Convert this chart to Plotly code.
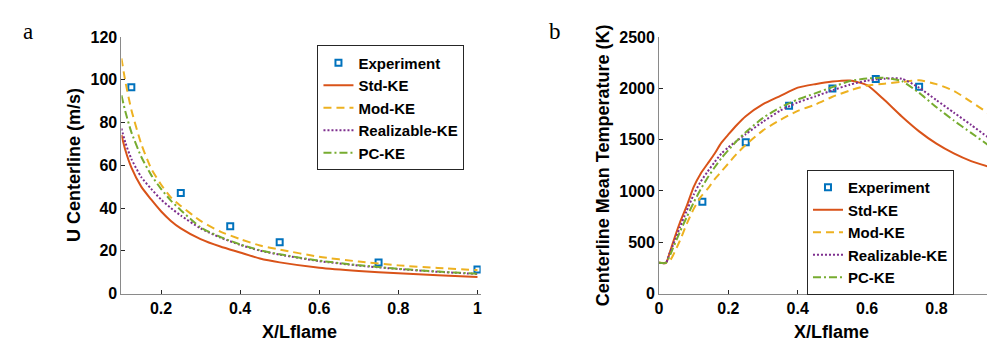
import plotly.graph_objects as go

# ---------------- Panel a data ----------------
xa = [0.1, 0.11, 0.125, 0.15, 0.175, 0.2, 0.225, 0.25, 0.3, 0.35, 0.4, 0.45, 0.5, 0.6, 0.7, 0.8, 0.9, 1.0]
std_a = [74.2, 67, 59, 50, 44, 38.5, 34, 30.5, 25.5, 22, 19.2, 16.4, 14.6, 12.1, 10.6, 9.5, 8.6, 7.8]
mod_a = [110, 99, 86, 70, 58.5, 51, 45, 41, 34, 29, 25.5, 22.5, 20.6, 17.2, 15, 13.2, 12, 11]
real_a = [77.2, 70.5, 63, 54.5, 49, 44, 40, 36.5, 30.5, 26.2, 22.8, 20.1, 18.2, 15.2, 13.1, 11.5, 10.2, 9.2]
pc_a = [92.7, 85, 75.5, 64, 55.5, 49, 43.5, 39, 31, 26.5, 23, 20.3, 18.4, 15.4, 13.3, 11.6, 10.3, 9.3]
exp_xa = [0.125, 0.25, 0.375, 0.5, 0.75, 1.0]
exp_ya = [96.5, 47, 31.5, 24, 14.5, 11.3]

# ---------------- Panel b data ----------------
xb = [0, 0.02, 0.03, 0.04, 0.06, 0.08, 0.1, 0.12, 0.14, 0.16, 0.18, 0.2, 0.225, 0.25, 0.3,
      0.35, 0.4, 0.45, 0.5, 0.55, 0.6, 0.65, 0.7, 0.75, 0.8, 0.85, 0.9, 0.95, 1.0]
std_b = [300, 300, 390, 495, 690, 855, 1040, 1168, 1265, 1362, 1470, 1550, 1645, 1728, 1845,
         1926, 2006, 2040, 2065, 2075, 2030, 1885, 1725, 1580, 1460, 1365, 1290, 1236, 1175]
mod_b = [300, 300, 315, 370, 515, 680, 825, 940, 1020, 1112, 1190, 1268, 1365, 1448, 1590,
         1692, 1780, 1840, 1917, 1978, 2027, 2045, 2062, 2078, 2040, 1975, 1868, 1755, 1630]
real_b = [300, 300, 390, 470, 645, 808, 965, 1090, 1188, 1280, 1365, 1425, 1490, 1553, 1675,
          1783, 1862, 1920, 1980, 2035, 2074, 2093, 2093, 2005, 1884, 1763, 1643, 1520, 1420]
pc_b = [300, 300, 360, 440, 600, 746, 888, 1015, 1128, 1228, 1320, 1398, 1490, 1572, 1712,
        1813, 1890, 1950, 2011, 2070, 2095, 2101, 2070, 1955, 1815, 1686, 1565, 1445, 1320]
exp_xb = [0.125, 0.25, 0.375, 0.5, 0.625, 0.75]
exp_yb = [895, 1475, 1830, 1997, 2090, 2015]

series_names = ["Std-KE", "Mod-KE", "Realizable-KE", "PC-KE"]
colors = ["#D95319", "#EDB120", "#7E2F8E", "#77AC30"]
dashes = ["solid", "8px,5px", "2px,2px", "8px,3px,2px,3px"]

fig = go.Figure()

def add_panel(x, ys, ex, ey, xref, yref, legend):
    fig.add_trace(go.Scatter(
        x=ex, y=ey, mode="markers", name="Experiment",
        marker=dict(symbol="square-open", size=6, color="#0072BD",
                    line=dict(width=2, color="#0072BD")),
        xaxis=xref, yaxis=yref, legend=legend))
    for name, y, c, d in zip(series_names, ys, colors, dashes):
        fig.add_trace(go.Scatter(
            x=x, y=y, mode="lines", name=name,
            line=dict(color=c, width=2, dash=d, shape="spline", smoothing=0.6),
            xaxis=xref, yaxis=yref, legend=legend))

add_panel(xa, [std_a, mod_a, real_a, pc_a], exp_xa, exp_ya, "x", "y", "legend")
add_panel(xb, [std_b, mod_b, real_b, pc_b], exp_xb, exp_yb, "x2", "y2", "legend2")

W, H = 995, 345


def px(xw):
    return xw / W


def py(yw):
    return (H - yw) / H


tickfont = dict(family="Liberation Sans, Arial, sans-serif", size=16, color="#000000", weight="bold")
axis_common = dict(showline=True, linecolor="#8a8a8a", linewidth=1, ticks="inside",
                   ticklen=4, tickcolor="#262626", tickwidth=1, showgrid=False,
                   zeroline=False, tickfont=tickfont, mirror=False)

ydom = [py(292), py(22)]
legfont = dict(family="Liberation Sans, Arial, sans-serif", size=15, color="#000000", weight="bold")

fig.update_layout(
    width=W, height=H,
    margin=dict(l=0, r=0, t=0, b=0),
    paper_bgcolor="white", plot_bgcolor="white",
    xaxis=dict(domain=[px(110), px(471)], range=[0.1, 1.008],
               tickvals=[0.2, 0.4, 0.6, 0.8, 1.0], ticktext=["0.2", "0.4", "0.6", "0.8", "1"],
               anchor="y", **axis_common),
    yaxis=dict(domain=ydom, range=[0, 120], tickvals=[0, 20, 40, 60, 80, 100, 120],
               anchor="x", **axis_common),
    xaxis2=dict(domain=[px(650.3), 1.0], range=[0, 0.989],
                tickvals=[0, 0.2, 0.4, 0.6, 0.8], ticktext=["0", "0.2", "0.4", "0.6", "0.8"],
                anchor="y2", **axis_common),
    yaxis2=dict(domain=ydom, range=[0, 2500], tickvals=[0, 500, 1000, 1500, 2000, 2500],
                anchor="x2", **axis_common),
    legend=dict(x=px(307), y=py(31), xanchor="left", yanchor="top",
                bgcolor="white", bordercolor="#262626", borderwidth=1,
                font=legfont, tracegroupgap=0),
    legend2=dict(x=px(799), y=py(162), xanchor="left", yanchor="top",
                 bgcolor="white", bordercolor="#262626", borderwidth=1,
                 font=legfont, tracegroupgap=0),
)

title_font = dict(family="Liberation Sans, Arial, sans-serif", size=18, color="#000000", weight="bold")
serif = dict(family="Liberation Serif, Times New Roman, serif", size=23, color="#000000")
ann = [
    dict(text="U Centerline (m/s)", x=px(63), y=py(157), textangle=-90, font=title_font),
    dict(text="Centerline Mean Temperature (K)", x=px(594), y=py(157), textangle=-90, font=title_font),
    dict(text="X/Lflame", x=px(289), y=py(332), font=title_font),
    dict(text="X/Lflame", x=px(824), y=py(332), font=title_font),
    dict(text="a", x=px(16), y=py(16), font=serif),
    dict(text="b", x=px(546), y=py(16), font=serif),
]
for a in ann:
    a.update(xref="paper", yref="paper", showarrow=False, xanchor="center", yanchor="middle")
    fig.add_annotation(**a)

fig.write_html("out.html")
